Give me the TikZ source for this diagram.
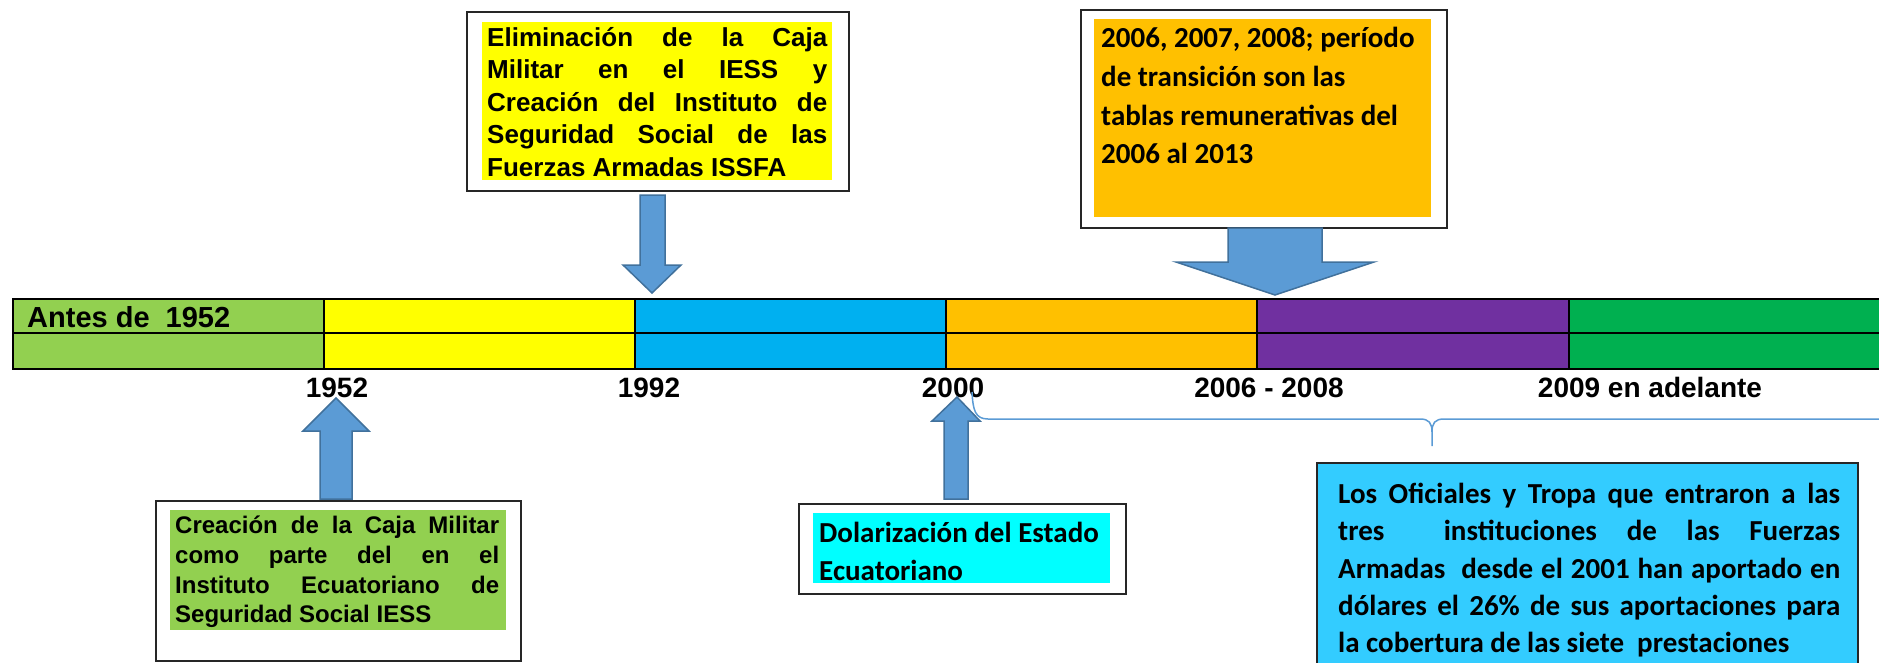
\documentclass[tikz,border=0pt]{standalone}
\usepackage{fontspec}
\setmainfont{Liberation Sans}
\newfontfamily\carlito{Carlito}
\definecolor{cgreen}{HTML}{92D050}
\definecolor{cyellow}{HTML}{FFFF00}
\definecolor{cblue}{HTML}{00B0F0}
\definecolor{corange}{HTML}{FFC000}
\definecolor{cpurple}{HTML}{7030A0}
\definecolor{cdgreen}{HTML}{00B050}
\definecolor{ccyan}{HTML}{00FFFF}
\definecolor{csky}{HTML}{33CCFF}
\definecolor{arrowblue}{HTML}{5B9BD5}
\definecolor{arrowedge}{HTML}{41719C}
\definecolor{braceblue}{HTML}{5B9BD5}
\tikzset{
  lab/.style={font=\fontsize{28}{32}\selectfont\bfseries, inner sep=0},
  ta/.style={font=\fontsize{26}{32}\selectfont\bfseries, inner sep=0, anchor=base west},
  tb/.style={font=\fontsize{24}{30}\selectfont\bfseries, inner sep=0, anchor=base west},
  tc/.style={font={\carlito\fontsize{29}{38}\selectfont\bfseries}, inner sep=0, anchor=base west},
  frame/.style={draw=black!85, line width=2pt, inner sep=0, anchor=north west},
  barline/.style={line width=2.5pt},
  blockarrow/.style={fill=arrowblue, draw=arrowedge, line width=1.5pt, line join=miter},
  brace/.style={draw=braceblue, line width=1.5pt}
}
\begin{document}
\begin{tikzpicture}[x=1pt,y=-1pt]
\useasboundingbox (0,0) rectangle (1879,662);
% ---------- timeline bar ----------
\fill[cgreen]  (13,299)  rectangle (324,369);
\fill[cyellow] (324,299) rectangle (635,369);
\fill[cblue]   (635,299) rectangle (946,369);
\fill[corange] (946,299) rectangle (1257,369);
\fill[cpurple] (1257,299) rectangle (1569,369);
\fill[cdgreen] (1569,299) rectangle (1890,369);
\draw[barline] (13,299) -- (1890,299);
\draw[barline] (13,333) -- (1890,333);
\draw[barline] (13,369) -- (1890,369);
\foreach \x in {13,324,635,946,1257,1569} \draw[barline] (\x,298) -- (\x,370);
\node[lab, font=\fontsize{29}{32}\selectfont\bfseries, anchor=base west] (antes) at (27,327) {Antes de\hspace{16pt}1952};
\node[lab, anchor=base] (y1952) at (337,397) {1952};
\node[lab, anchor=base] (y1992) at (649,397) {1992};
\node[lab, anchor=base] (y2000) at (953,397) {2000};
\node[lab, anchor=base] (y2006) at (1269,397) {2006 - 2008};
\node[lab, anchor=base] (y2009) at (1650,397) {2009 en adelante};
% ---------- top box 1 ----------
\node[frame, minimum width=382pt, minimum height=179pt] (box1) at (466,11) {};
\fill[cyellow] (482,22) rectangle (832,180);
\node[ta] (b1l1) at (487,46)    {\makebox[340pt][s]{Eliminación de la Caja}};
\node[ta] (b1l2) at (487,78.5)  {\makebox[340pt][s]{Militar en el IESS y}};
\node[ta] (b1l3) at (487,111)   {\makebox[340pt][s]{Creación del Instituto de}};
\node[ta] (b1l4) at (487,143.5) {\makebox[340pt][s]{Seguridad Social de las}};
\node[ta] (b1l5) at (487,176)   {Fuerzas Armadas ISSFA};
\draw[blockarrow] (640,195) -- (665,195) -- (665,265) -- (681,265) -- (652,293)
  -- (623,265) -- (640,265) -- cycle;
% ---------- top box 2 ----------
\node[frame, minimum width=366pt, minimum height=218pt] (box2) at (1080,9) {};
\fill[corange] (1094,19) rectangle (1431,217);
\node[tc] (b2l1) at (1101,47)  {2006, 2007, 2008; período};
\node[tc] (b2l2) at (1101,86)  {de transición son las};
\node[tc] (b2l3) at (1101,125) {tablas remunerativas del};
\node[tc] (b2l4) at (1101,163) {2006 al 2013};
\draw[blockarrow] (1228,228) -- (1322,228) -- (1322,262) -- (1374,262) -- (1275,295)
  -- (1176,262) -- (1228,262) -- cycle;
% ---------- bottom-left box ----------
\node[frame, minimum width=365pt, minimum height=160pt] (box3) at (155,500) {};
\fill[cgreen] (170,510) rectangle (506,630);
\node[tb] (b3l1) at (175,533) {\makebox[324pt][s]{Creación de la Caja Militar}};
\node[tb] (b3l2) at (175,563) {\makebox[324pt][s]{como parte del en el}};
\node[tb] (b3l3) at (175,593) {\makebox[324pt][s]{Instituto Ecuatoriano de}};
\node[tb] (b3l4) at (175,622) {Seguridad Social IESS};
\draw[blockarrow] (320,499) -- (352,499) -- (352,431) -- (369,431) -- (336,398)
  -- (303,431) -- (320,431) -- cycle;
% ---------- bottom-middle box ----------
\node[frame, minimum width=327pt, minimum height=90pt] (box4) at (798,503) {};
\fill[ccyan] (813,513) rectangle (1110,583);
\node[tc] (b4l1) at (819,542) {Dolarización del Estado};
\node[tc] (b4l2) at (819,580) {Ecuatoriano};
\draw[blockarrow] (944,499) -- (968,499) -- (968,421) -- (980,421) -- (957,397)
  -- (932,421) -- (944,421) -- cycle;
% ---------- brace ----------
\draw[brace] (972,392) .. controls (973,410) and (975,419) .. (988,419) -- (1420,419)
  .. controls (1429,419) and (1432,423) .. (1432,432) -- (1432,446);
\draw[brace] (1432,432) .. controls (1432,423) and (1435,419) .. (1444,419) -- (1890,419);
% ---------- bottom-right box ----------
\fill[csky] (1317,463) rectangle (1858,680);
\draw[draw=black!85, line width=2pt] (1317,680) -- (1317,463) -- (1858,463) -- (1858,680);
\node[tc] (b5l1) at (1338,503) {\makebox[502pt][s]{Los Oficiales y Tropa que entraron a las}};
\node[tc] (b5l2) at (1338,540) {\makebox[502pt][s]{tres~~instituciones de las Fuerzas}};
\node[tc] (b5l3) at (1338,578) {\makebox[502pt][s]{Armadas~~desde el 2001 han aportado en}};
\node[tc] (b5l4) at (1338,615) {\makebox[502pt][s]{dólares el 26\% de sus aportaciones para}};
\node[tc] (b5l5) at (1338,652) {la cobertura de las siete~~prestaciones};
\end{tikzpicture}
\end{document}
